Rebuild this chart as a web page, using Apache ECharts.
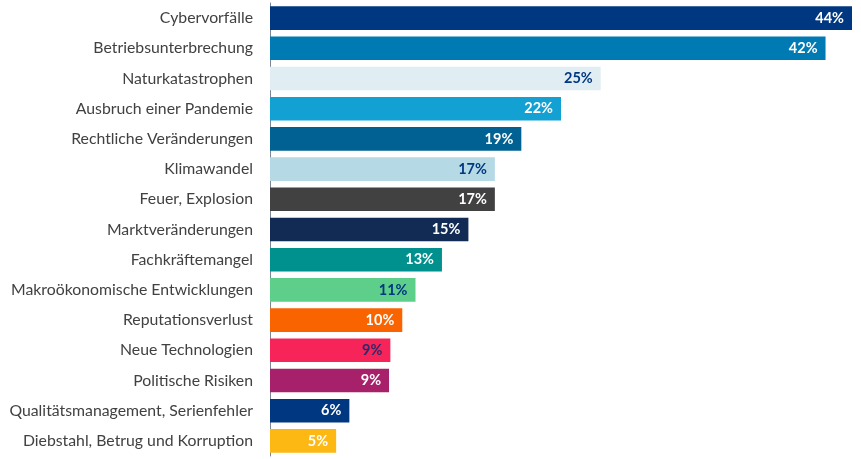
<!DOCTYPE html>
<html>
<head>
<meta charset="utf-8">
<script src="https://cdn.jsdelivr.net/npm/echarts@6/dist/echarts.min.js"></script>
<style>
html,body{margin:0;padding:0;background:#fff;}
#chart{width:861px;height:459px;}
</style>
</head>
<body>
<div id="chart"></div>
<script>
const categories = [
  "Cybervorfälle",
  "Betriebsunterbrechung",
  "Naturkatastrophen",
  "Ausbruch einer Pandemie",
  "Rechtliche Veränderungen",
  "Klimawandel",
  "Feuer, Explosion",
  "Marktveränderungen",
  "Fachkräftemangel",
  "Makroökonomische Entwicklungen",
  "Reputationsverlust",
  "Neue Technologien",
  "Politische Risiken",
  "Qualitätsmanagement, Serienfehler",
  "Diebstahl, Betrug und Korruption"
];
const values = [44, 42, 25, 22, 19, 17, 17, 15, 13, 11, 10, 9.1, 9, 6, 5];
const barColors = ["#003781","#007ab3","#e0eef3","#13a0d3","#006192","#b6d9e6","#414141","#122b54","#00908d","#5ecf8a","#fa6400","#f62459","#a6206a","#003781","#fdb813"];
const labelColors = ["#ffffff","#ffffff","#003781","#ffffff","#ffffff","#003781","#ffffff","#ffffff","#ffffff","#003781","#ffffff","#2b2a6b","#ffffff","#ffffff","#ffffff"];

const chart = echarts.init(document.getElementById('chart'), null, {renderer:'canvas'});
chart.setOption({
  animation:false,
  grid:{left:270, right:9, top:3, bottom:3, containLabel:false},
  xAxis:{type:'value', min:0, max:44, show:false},
  yAxis:{
    type:'category', inverse:true, data:categories,
    axisLine:{show:true, lineStyle:{color:'#7d8796', width:1}},
    axisTick:{show:false},
    axisLabel:{color:'#414141', fontSize:15.8, fontFamily:'Lato', margin:17}
  },
  series:[{
    type:'bar',
    barWidth:'78%',
    data: values.map((v,i)=>({value:v, itemStyle:{color:barColors[i]}, label:{color:labelColors[i]}})),
    label:{
      show:true, position:'insideRight', distance:8,
      fontFamily:'Lato', fontWeight:'bold', fontSize:14.5,
      formatter:p=>Math.round(p.value)+'%'
    }
  }]
});
</script>
</body>
</html>
